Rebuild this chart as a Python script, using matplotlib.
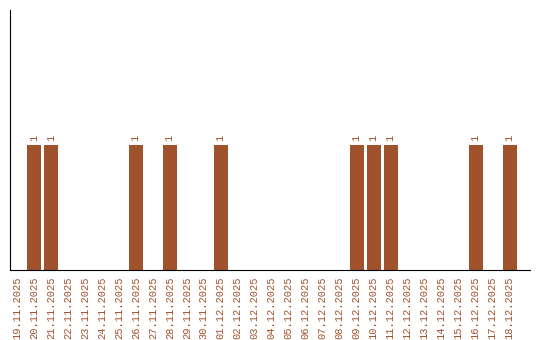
import matplotlib
matplotlib.use("Agg")
import matplotlib.pyplot as plt

dates = ["19.11.2025", "20.11.2025", "21.11.2025", "22.11.2025", "23.11.2025",
         "24.11.2025", "25.11.2025", "26.11.2025", "27.11.2025", "28.11.2025",
         "29.11.2025", "30.11.2025", "01.12.2025", "02.12.2025", "03.12.2025",
         "04.12.2025", "05.12.2025", "06.12.2025", "07.12.2025", "08.12.2025",
         "09.12.2025", "10.12.2025", "11.12.2025", "12.12.2025", "13.12.2025",
         "14.12.2025", "15.12.2025", "16.12.2025", "17.12.2025", "18.12.2025"]
counts = [0, 1, 1, 0, 0, 0, 0, 1, 0, 1,
          0, 0, 1, 0, 0, 0, 0, 0, 0, 0,
          1, 1, 1, 0, 0, 0, 0, 1, 0, 1]

color = '#A0522D'
plt.rcParams['font.family'] = ['Liberation Mono', 'DejaVu Sans Mono']

fig = plt.figure(figsize=(5.4, 3.4), dpi=100)
ax = fig.add_axes([10/540, 70/340, 520/540, 260/340])

x = range(len(dates))
ax.bar(x, counts, width=0.82, color=color)

for i, v in enumerate(counts):
    if v > 0:
        ax.text(i, v + 0.03, str(v), rotation=90, ha='center', va='bottom',
                fontsize=7.5, color=color)

ax.set_xticks(list(x))
ax.set_xticklabels(dates, rotation=90, fontsize=7.5, color=color)
ax.tick_params(axis='x', length=0, pad=5)
ax.set_yticks([])
ax.set_xlim(-0.4, 30.2)
ax.set_ylim(0, 2.08)
ax.spines['top'].set_visible(False)
ax.spines['right'].set_visible(False)

fig.savefig('out.png', dpi=100)
